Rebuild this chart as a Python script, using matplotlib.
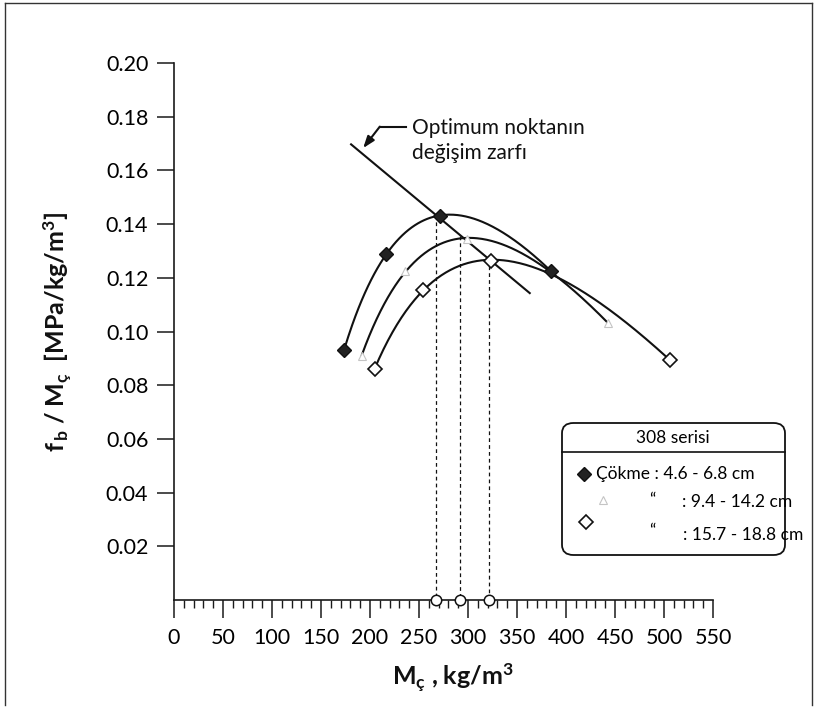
import numpy as np
import matplotlib
matplotlib.use("Agg")
import matplotlib.pyplot as plt
from matplotlib.patches import FancyBboxPatch
from matplotlib.lines import Line2D

# ---------------- data ----------------
x1 = [173.5, 216.5, 271.5, 384.8]
y1 = [0.093, 0.129, 0.143, 0.1225]
x2 = [191.7, 235.4, 299.0, 443.0]
y2 = [0.091, 0.1225, 0.1344, 0.1032]
x3 = [204.8, 253.6, 323.9, 505.8]
y3 = [0.086, 0.1155, 0.1264, 0.0895]

opt_x = [267, 292, 321]
opt_y = [0.1435, 0.1355, 0.127]

env_x = [180.7, 363.0]
env_y = [0.1697, 0.1143]

xticks = list(range(0, 551, 50))
yticks = [0.02, 0.04, 0.06, 0.08, 0.10, 0.12, 0.14, 0.16, 0.18, 0.20]

legend_title = "308 serisi"
legend_rows = ["Çökme : 4.6 - 6.8 cm", ": 9.4 - 14.2 cm", ": 15.7 - 18.8 cm"]
annot_text = "Optimum noktanın\ndeğişim zarfı"

# ---------------- style ----------------
FONT = "Lato"
plt.rcParams["font.family"] = [FONT, "DejaVu Sans"]
plt.rcParams["mathtext.fontset"] = "custom"
plt.rcParams["mathtext.rm"] = FONT
plt.rcParams["mathtext.bf"] = FONT + ":bold"
plt.rcParams["mathtext.it"] = FONT + ":italic"

W, H = 815, 727
fig = plt.figure(figsize=(W / 100, H / 100), dpi=100)
fig.patch.set_facecolor("white")

def fx(px):
    return px / W

def fy(py):
    return 1 - py / H

ax = fig.add_axes([fx(174), fy(600), (713 - 174) / W, (600 - 63) / H])
ax.set_xlim(0, 550)
ax.set_ylim(0, 0.20)
for s in ["top", "right"]:
    ax.spines[s].set_visible(False)
for s in ["left", "bottom"]:
    ax.spines[s].set_linewidth(1.2)
    ax.spines[s].set_color("#1a1a1a")

ax.set_xticks(xticks)
ax.set_xticks(np.arange(0, 551, 10), minor=True)
ax.set_yticks(yticks)
ax.set_yticklabels([f"{v:.2f}" for v in yticks])
ax.tick_params(axis="x", which="major", direction="out", length=13, width=1.1,
               labelsize=15.5, pad=7, color="#1a1a1a")
ax.tick_params(axis="x", which="minor", direction="out", length=5.5, width=1.0,
               color="#1a1a1a")
ax.tick_params(axis="y", which="major", direction="out", length=12.5, width=1.1,
               labelsize=15.5, pad=6, color="#1a1a1a")

# ---------------- curves (log-quadratic trend lines) ----------------
def trend(xs, ys):
    c = np.polyfit(np.log(xs), ys, 2)
    xx = np.linspace(min(xs), max(xs), 200)
    return xx, np.polyval(c, np.log(xx))

for xs, ys in [(x1, y1), (x2, y2), (x3, y3)]:
    xx, yy = trend(xs, ys)
    ax.plot(xx, yy, color="#111111", lw=1.5, zorder=2)

# envelope line
ax.plot(env_x, env_y, color="#111111", lw=1.5, zorder=2)

# dashed verticals and optimum circles
for xo, yo in zip(opt_x, opt_y):
    ax.plot([xo, xo], [yo, 0], color="#111111", lw=0.9, ls=(0, (3, 2.5)), zorder=1)
ax.plot(opt_x, [0] * len(opt_x), ls="none", marker="o", ms=7.5, mfc="white",
        mec="#111111", mew=1.1, clip_on=False, zorder=5)

# markers
ax.plot(x1, y1, ls="none", marker="D", ms=7, mfc="#222222", mec="#111111",
        mew=1.0, zorder=4)
ax.plot(x2, y2, ls="none", marker="^", ms=6, mfc="white", mec="#c4c4c4",
        mew=0.8, zorder=4)
ax.plot(x3, y3, ls="none", marker="D", ms=7.5, mfc="white", mec="#111111",
        mew=1.2, zorder=4)

# annotation
ax.plot([237, 210], [0.1763, 0.1763], color="#111111", lw=1.5)
ax.annotate("", xy=(193, 0.1683), xytext=(210, 0.1763),
            arrowprops=dict(arrowstyle="-|>,head_length=0.7,head_width=0.25",
                            color="#111111", lw=1.5, shrinkA=0, shrinkB=0))
ax.text(243, 0.1712, annot_text, fontsize=15, ha="left", va="center",
        linespacing=1.3, color="#111111")

# axis labels
fig.text(fx(453), fy(678), r"$\mathbf{M_{ç}}$ , kg/m$^{\mathbf{3}}$",
         fontsize=18, fontweight="bold", ha="center", va="center",
         color="#111111")
fig.text(fx(58), fy(332),
         r"$\mathbf{f_{\,b}}$ / $\mathbf{M_{ç}}$  [MPa/kg/m$^{\mathbf{3}}$]",
         fontsize=18, fontweight="bold", ha="center", va="center",
         rotation=90, color="#111111")

# ---------------- legend box ----------------
box = FancyBboxPatch((fx(562), fy(555)), fx(785) - fx(562), fy(423) - fy(555),
                     boxstyle="round,pad=0,rounding_size=0.014",
                     transform=fig.transFigure, fc="white", ec="#111111",
                     lw=1.3, zorder=10)
fig.add_artist(box)
fig.add_artist(Line2D([fx(562), fx(785)], [fy(452), fy(452)],
                      transform=fig.transFigure, color="#111111", lw=1.2,
                      zorder=11))
fig.text(fx(673), fy(438), legend_title, fontsize=12.5, ha="center",
         va="center", zorder=12)
fig.add_artist(Line2D([fx(584)], [fy(474)], transform=fig.transFigure,
                      marker="D", ms=7, mfc="#222222", mec="#111111",
                      ls="none", zorder=12))
fig.add_artist(Line2D([fx(603)], [fy(500)], transform=fig.transFigure,
                      marker="^", ms=6, mfc="white", mec="#c4c4c4", mew=0.8,
                      ls="none", zorder=12))
fig.add_artist(Line2D([fx(586)], [fy(522)], transform=fig.transFigure,
                      marker="D", ms=7.5, mfc="white", mec="#111111",
                      mew=1.2, ls="none", zorder=12))
fig.text(fx(596), fy(474), legend_rows[0], fontsize=12.5, ha="left",
         va="center", zorder=12)
fig.text(fx(652), fy(500), "\u201c", fontsize=12.5, ha="center",
         va="center", zorder=12)
fig.text(fx(682), fy(502), legend_rows[1], fontsize=12.5, ha="left",
         va="center", zorder=12)
fig.text(fx(652), fy(531), "\u201c", fontsize=12.5, ha="center",
         va="center", zorder=12)
fig.text(fx(683), fy(535), legend_rows[2], fontsize=12.5, ha="left",
         va="center", zorder=12)

# ---------------- outer frame ----------------
for xs_, ys_ in [([5, 5], [3, 705]), ([5, 812], [3, 3]), ([812, 812], [3, 705])]:
    fig.add_artist(Line2D([fx(v) for v in xs_], [fy(v) for v in ys_],
                          transform=fig.transFigure, color="#333333", lw=1.0))

fig.savefig("out.png", dpi=100)
